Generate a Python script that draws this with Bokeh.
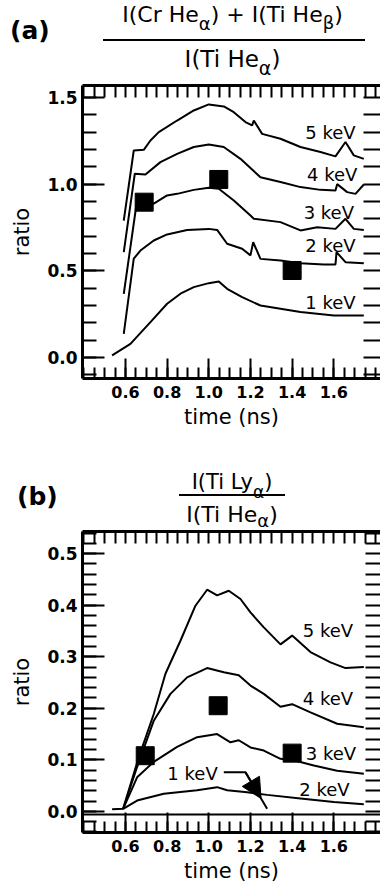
from bokeh.plotting import figure
from bokeh.models import (Range1d, LinearAxis, FixedTicker, NumeralTickFormatter,
                          Arrow, NormalHead, Span, Div)
from bokeh.layouts import column
from bokeh.embed import file_html
from bokeh.resources import INLINE
from bokeh.core.properties import value

FONT = "DejaVu Sans"

# ---------------- data: panel (a) ----------------
a5_t = [0.592, 0.640, 0.688, 0.720, 0.760, 0.848, 0.928, 1.000, 1.072, 1.120, 1.176,
        1.208, 1.216, 1.256, 1.344, 1.440, 1.536, 1.608, 1.656, 1.696, 1.744]
a5_v = [0.790, 1.194, 1.198, 1.252, 1.300, 1.367, 1.425, 1.460, 1.448, 1.415, 1.358,
        1.339, 1.367, 1.290, 1.262, 1.214, 1.185, 1.160, 1.243, 1.166, 1.146]

a4_t = [0.592, 0.645, 0.696, 0.768, 0.848, 0.928, 1.000, 1.072, 1.152, 1.248, 1.344,
        1.440, 1.536, 1.608, 1.616, 1.664, 1.704, 1.744]
a4_v = [0.608, 1.060, 1.056, 1.127, 1.175, 1.214, 1.229, 1.214, 1.146, 1.040, 1.012,
        0.983, 0.967, 0.964, 1.000, 0.954, 0.944, 0.998]

a3_t = [0.592, 0.655, 0.736, 0.800, 0.848, 0.928, 1.000, 1.048, 1.120, 1.200, 1.216,
        1.344, 1.440, 1.520, 1.608, 1.656, 1.696, 1.744]
a3_v = [0.367, 0.900, 0.888, 0.935, 0.944, 0.967, 0.979, 0.973, 0.906, 0.819, 0.800,
        0.781, 0.733, 0.752, 0.742, 0.800, 0.742, 0.736]

a2_t = [0.592, 0.640, 0.672, 0.736, 0.800, 0.896, 1.000, 1.040, 1.088, 1.160, 1.200,
        1.213, 1.248, 1.344, 1.440, 1.552, 1.608, 1.613, 1.656, 1.744]
a2_v = [0.136, 0.570, 0.617, 0.675, 0.710, 0.736, 0.742, 0.736, 0.656, 0.627, 0.589,
        0.665, 0.569, 0.560, 0.544, 0.537, 0.537, 0.608, 0.550, 0.544]

a1_t = [0.536, 0.624, 0.720, 0.800, 0.864, 0.928, 1.000, 1.048, 1.088, 1.160, 1.248,
        1.344, 1.440, 1.600, 1.744]
a1_v = [0.012, 0.079, 0.204, 0.310, 0.368, 0.406, 0.429, 0.439, 0.396, 0.348, 0.300,
        0.281, 0.262, 0.242, 0.242]

a_meas_t = [0.690, 1.048, 1.400]
a_meas_v = [0.896, 1.027, 0.502]

a_lab_text = ["5 keV", "4 keV", "3 keV", "2 keV", "1 keV"]
a_lab_t = [1.584, 1.592, 1.576, 1.584, 1.584]
a_lab_v = [1.300, 1.056, 0.839, 0.646, 0.319]

# ---------------- data: panel (b) ----------------
b5_t = [0.589, 0.664, 0.736, 0.792, 0.864, 0.936, 0.992, 1.040, 1.096, 1.152, 1.200,
        1.264, 1.344, 1.400, 1.488, 1.584, 1.656, 1.744]
b5_v = [0.005, 0.105, 0.189, 0.267, 0.331, 0.399, 0.430, 0.419, 0.428, 0.412, 0.386,
        0.357, 0.324, 0.341, 0.309, 0.289, 0.278, 0.280]

b4_t = [0.589, 0.656, 0.736, 0.816, 0.896, 0.992, 1.072, 1.144, 1.200, 1.264, 1.344,
        1.400, 1.488, 1.616, 1.744]
b4_v = [0.005, 0.086, 0.176, 0.228, 0.260, 0.278, 0.270, 0.264, 0.244, 0.228, 0.203,
        0.208, 0.192, 0.170, 0.163]

b3_t = [0.589, 0.656, 0.736, 0.848, 0.944, 1.040, 1.104, 1.144, 1.200, 1.264, 1.344,
        1.408, 1.504, 1.616, 1.744]
b3_v = [0.005, 0.066, 0.096, 0.125, 0.144, 0.150, 0.134, 0.138, 0.124, 0.118, 0.102,
        0.099, 0.089, 0.079, 0.073]

b2_t = [0.536, 0.589, 0.656, 0.784, 0.944, 1.040, 1.088, 1.184, 1.280, 1.440, 1.600, 1.744]
b2_v = [0.004, 0.005, 0.021, 0.034, 0.041, 0.047, 0.041, 0.037, 0.032, 0.025, 0.018, 0.014]

b1_level = -0.006  # the 1 keV ratio stays at ~0

b_meas_t = [0.695, 1.045, 1.400]
b_meas_v = [0.108, 0.205, 0.113]

b_lab_text = ["5 keV", "4 keV", "3 keV", "2 keV", "1 keV"]
b_lab_t = [1.572, 1.572, 1.586, 1.555, 0.922]
b_lab_v = [0.351, 0.219, 0.112, 0.043, 0.073]

# 1 keV pointer (b)
b_ptr_t = [1.072, 1.176, 1.280]
b_ptr_v = [0.076, 0.076, 0.005]

# ---------------- axes ----------------
x_major = [0.6, 0.8, 1.0, 1.2, 1.4, 1.6]
x_minor = [round(0.40 + 0.05 * i, 2) for i in range(29)]
a_y_major = [0.0, 0.5, 1.0, 1.5]
a_y_minor = [round(-0.1 + 0.1 * i, 1) for i in range(17)]
b_y_major = [0.0, 0.1, 0.2, 0.3, 0.4, 0.5]
b_y_minor = [round(-0.04 + 0.02 * i, 2) for i in range(30)]

X_RANGE = (0.394, 1.824)
A_Y_RANGE = (-0.121, 1.569)
B_Y_RANGE = (-0.041, 0.543)

W = 380
LEFT = 82


def make_panel(yr, top, frame_h, bottom, ymaj, ymin, right_len):
    p = figure(width=W, height=top + frame_h + bottom,
               x_range=Range1d(*X_RANGE), y_range=Range1d(*yr),
               x_axis_location=None, y_axis_location=None,
               output_backend="svg", toolbar_location=None,
               min_border_left=LEFT, min_border_right=0,
               min_border_top=top, min_border_bottom=bottom)
    p.outline_line_color = None
    p.xgrid.visible = False
    p.ygrid.visible = False

    def base(ax, mj, mn):
        ax.axis_line_width = 3
        ax.axis_line_color = "black"
        ax.major_tick_out = 0
        ax.minor_tick_out = 0
        ax.major_tick_in = mj
        ax.minor_tick_in = mn
        ax.major_tick_line_width = 2
        ax.minor_tick_line_width = 2
        ax.major_tick_line_color = "black"
        ax.minor_tick_line_color = "black"

    xb = LinearAxis(ticker=FixedTicker(ticks=x_major, minor_ticks=x_minor),
                    formatter=NumeralTickFormatter(format="0.0"))
    base(xb, 20, 11)
    xb.major_label_text_font = FONT
    xb.major_label_text_font_style = "bold"
    xb.major_label_text_font_size = "16px"
    xb.major_label_text_color = "black"
    xb.major_label_standoff = 7
    xb.axis_label = "time (ns)"
    xb.axis_label_text_font = FONT
    xb.axis_label_text_font_style = "normal"
    xb.axis_label_text_font_size = "21px"
    xb.axis_label_text_color = "black"
    xb.axis_label_standoff = 4
    p.add_layout(xb, "below")

    # top: tick marks only (all given as minor ticks, so there are no tick labels)
    xt = LinearAxis(ticker=FixedTicker(ticks=[], minor_ticks=x_minor))
    base(xt, 12, 12)
    p.add_layout(xt, "above")

    yl = LinearAxis(ticker=FixedTicker(ticks=ymaj, minor_ticks=ymin),
                    formatter=NumeralTickFormatter(format="0.0"))
    base(yl, 22, 14)
    yl.major_label_text_font = FONT
    yl.major_label_text_font_style = "bold"
    yl.major_label_text_font_size = "17px"
    yl.major_label_text_color = "black"
    yl.major_label_standoff = 5
    yl.axis_label = "ratio"
    yl.axis_label_text_font = FONT
    yl.axis_label_text_font_style = "normal"
    yl.axis_label_text_font_size = "21px"
    yl.axis_label_text_color = "black"
    yl.axis_label_standoff = 10
    p.add_layout(yl, "left")

    yr_ax = LinearAxis(ticker=FixedTicker(ticks=[], minor_ticks=ymin))
    base(yr_ax, right_len, right_len)
    yr_ax.axis_line_color = None
    p.add_layout(yr_ax, "right")
    return p


ASC = 0.846  # baseline offset (em) of DejaVu Sans with line-height 1


def piece(left, baseline, size, html, bold=False, width=None, center=False):
    top = baseline - ASC * size
    w = f"width:{width}px;" if width else ""
    al = "text-align:center;" if center else ""
    fw = "bold" if bold else "normal"
    return (f'<div style="position:absolute;left:{left}px;top:{top:.1f}px;{w}{al}'
            f'font-family:\'{FONT}\';font-size:{size}px;line-height:{size}px;'
            f'font-weight:{fw};color:black;white-space:nowrap;">{html}</div>')


def sub(ch, size, drop):
    return (f'<span style="font-size:{size}px;position:relative;top:{drop}px;'
            f'line-height:0;">{ch}</span>')


def bar(left, width, y, thick=2.5):
    return (f'<div style="position:absolute;left:{left}px;top:{y - thick / 2:.1f}px;'
            f'width:{width}px;height:{thick}px;background:black;"></div>')


def title_div(h, parts):
    html = (f'<div style="position:relative;width:{W}px;height:{h}px;margin:0;padding:0;">'
            + "".join(parts) + "</div>")
    return Div(text=html, width=W, height=h, margin=0,
               styles={"overflow": "visible", "margin": "0", "padding": "0"})


# ---------------- title (a) ----------------
TA_H = 82
ta = title_div(TA_H, [
    piece(10, 39, 25, "(a)", bold=True),
    piece(100, 23, 22, "I(Cr He" + sub("\u03b1", 18, 8) + ") + I(Ti He" + sub("\u03b2", 18, 7) + ")",
          width=265, center=True),
    bar(103, 262, 40),
    piece(100, 67, 23, "I(Ti He" + sub("\u03b1", 19, 8) + ")", width=265, center=True),
])

# ---------------- panel (a) ----------------
A_TOP, A_FH, A_BOT = 85 - TA_H, 293, 62
pa = make_panel(A_Y_RANGE, A_TOP, A_FH, A_BOT, a_y_major, a_y_minor, 17)
for t, v in [(a5_t, a5_v), (a4_t, a4_v), (a3_t, a3_v), (a2_t, a2_v), (a1_t, a1_v)]:
    pa.line(t, v, line_width=2, line_color="black")
pa.scatter(a_meas_t, a_meas_v, marker="square", size=18, fill_color="black", line_color="black")
pa.text(a_lab_t, a_lab_v, text=a_lab_text, text_font=value(FONT), text_font_size="18px",
        text_align="center", text_baseline="middle", text_color="black")

# ---------------- title (b) ----------------
TB_H = 89
tb = title_div(TB_H, [
    piece(17, 65, 25, "(b)", bold=True),
    piece(172, 50, 21, "I(Ti Ly" + sub("\u03b1", 17, 9) + ")", width=120, center=True),
    bar(179, 106, 55),
    piece(172, 83, 22, "I(Ti He" + sub("\u03b1", 18, 5) + ")", width=120, center=True),
])

# ---------------- panel (b) ----------------
B_TOP, B_FH, B_BOT = 531 - 440 - TB_H, 301, 58
pb = make_panel(B_Y_RANGE, B_TOP, B_FH, B_BOT, b_y_major, b_y_minor, 15)
pb.add_layout(Span(location=b1_level, dimension="width", line_color="black", line_width=2))
for t, v in [(b5_t, b5_v), (b4_t, b4_v), (b3_t, b3_v), (b2_t, b2_v)]:
    pb.line(t, v, line_width=2, line_color="black")
pb.scatter(b_meas_t, b_meas_v, marker="square", size=18, fill_color="black", line_color="black")
pb.text(b_lab_t, b_lab_v, text=b_lab_text, text_font=value(FONT), text_font_size="18px",
        text_align="center", text_baseline="middle", text_color="black")
pb.line(b_ptr_t, b_ptr_v, line_width=2, line_color="black")
pb.add_layout(Arrow(end=NormalHead(size=20, fill_color="black", line_color="black"),
                    x_start=b_ptr_t[1], y_start=b_ptr_v[1],
                    x_end=b_ptr_t[1] + 0.72 * (b_ptr_t[2] - b_ptr_t[1]),
                    y_end=b_ptr_v[1] + 0.72 * (b_ptr_v[2] - b_ptr_v[1]),
                    line_width=2, line_color="black"))

layout = column(ta, pa, tb, pb, spacing=0)
open("out.html", "w").write(file_html(layout, INLINE))
